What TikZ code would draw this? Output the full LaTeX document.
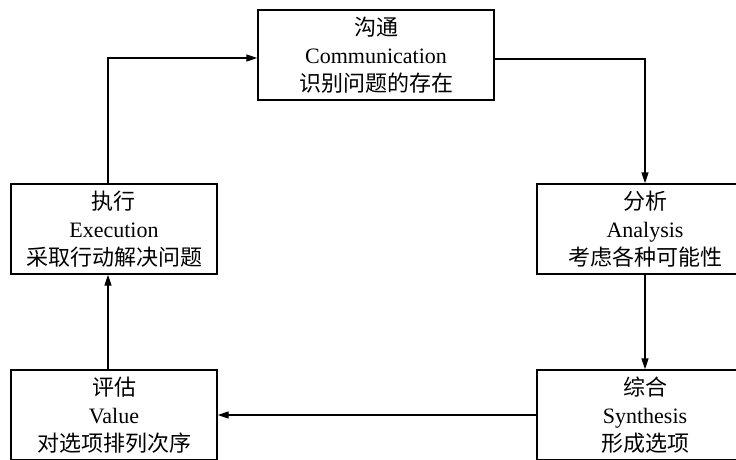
\documentclass[tikz,border=0pt]{standalone}
\usepackage{fontspec}
\setmainfont{Liberation Serif}
\newfontfamily\cjk{Noto Sans CJK SC}
\usetikzlibrary{positioning,arrows.meta}

\begin{document}
\begin{tikzpicture}[x=1pt,y=-1pt]
		\tikzset{module/.style={draw,
								rectangle,
								line width=1.4pt,
								inner sep=0pt,
								minimum height=90pt,
								font=\fontsize{22}{28}\selectfont,
								align=center},
				 arrow/.style={-{Triangle[length=11pt,width=7pt]},
							   line width=1.4pt}}
		\useasboundingbox (0,0) rectangle (736,459);
		\clip (0,0) rectangle (736,459);
		% Nodes
	    \node[module, minimum width=236pt] (comm) at (376,55) {{\cjk 沟通}\\Communication\\{\cjk 识别问题的存在}};
	    \node[module, minimum width=216pt] (analysis) at (645,229) {{\cjk 分析}\\Analysis\\{\cjk 考虑各种可能性}};
	    \node[module, minimum width=216pt] (synthesis) at (645,415) {{\cjk 综合}\\Synthesis\\{\cjk 形成选项}};
	    \node[module, minimum width=206pt] (value) at (114,415) {{\cjk 评估}\\Value\\{\cjk 对选项排列次序}};
	    \node[module, minimum width=206pt] (exec) at (114,229) {{\cjk 执行}\\Execution\\{\cjk 采取行动解决问题}};
	    
	    % Arrows
	    \draw[arrow] ([yshift=-4pt]comm.east) -| (analysis.north);
	    \draw[arrow] (analysis) -- (synthesis);
	    \draw[arrow] (synthesis) -- (value);
	    \draw[arrow] ([xshift=-6pt]value.north) -- ([xshift=-6pt]exec.south);
	    \draw[arrow] ([xshift=-6pt]exec.north) |- ([yshift=-3pt]comm.west);
	\end{tikzpicture}
\end{document}
